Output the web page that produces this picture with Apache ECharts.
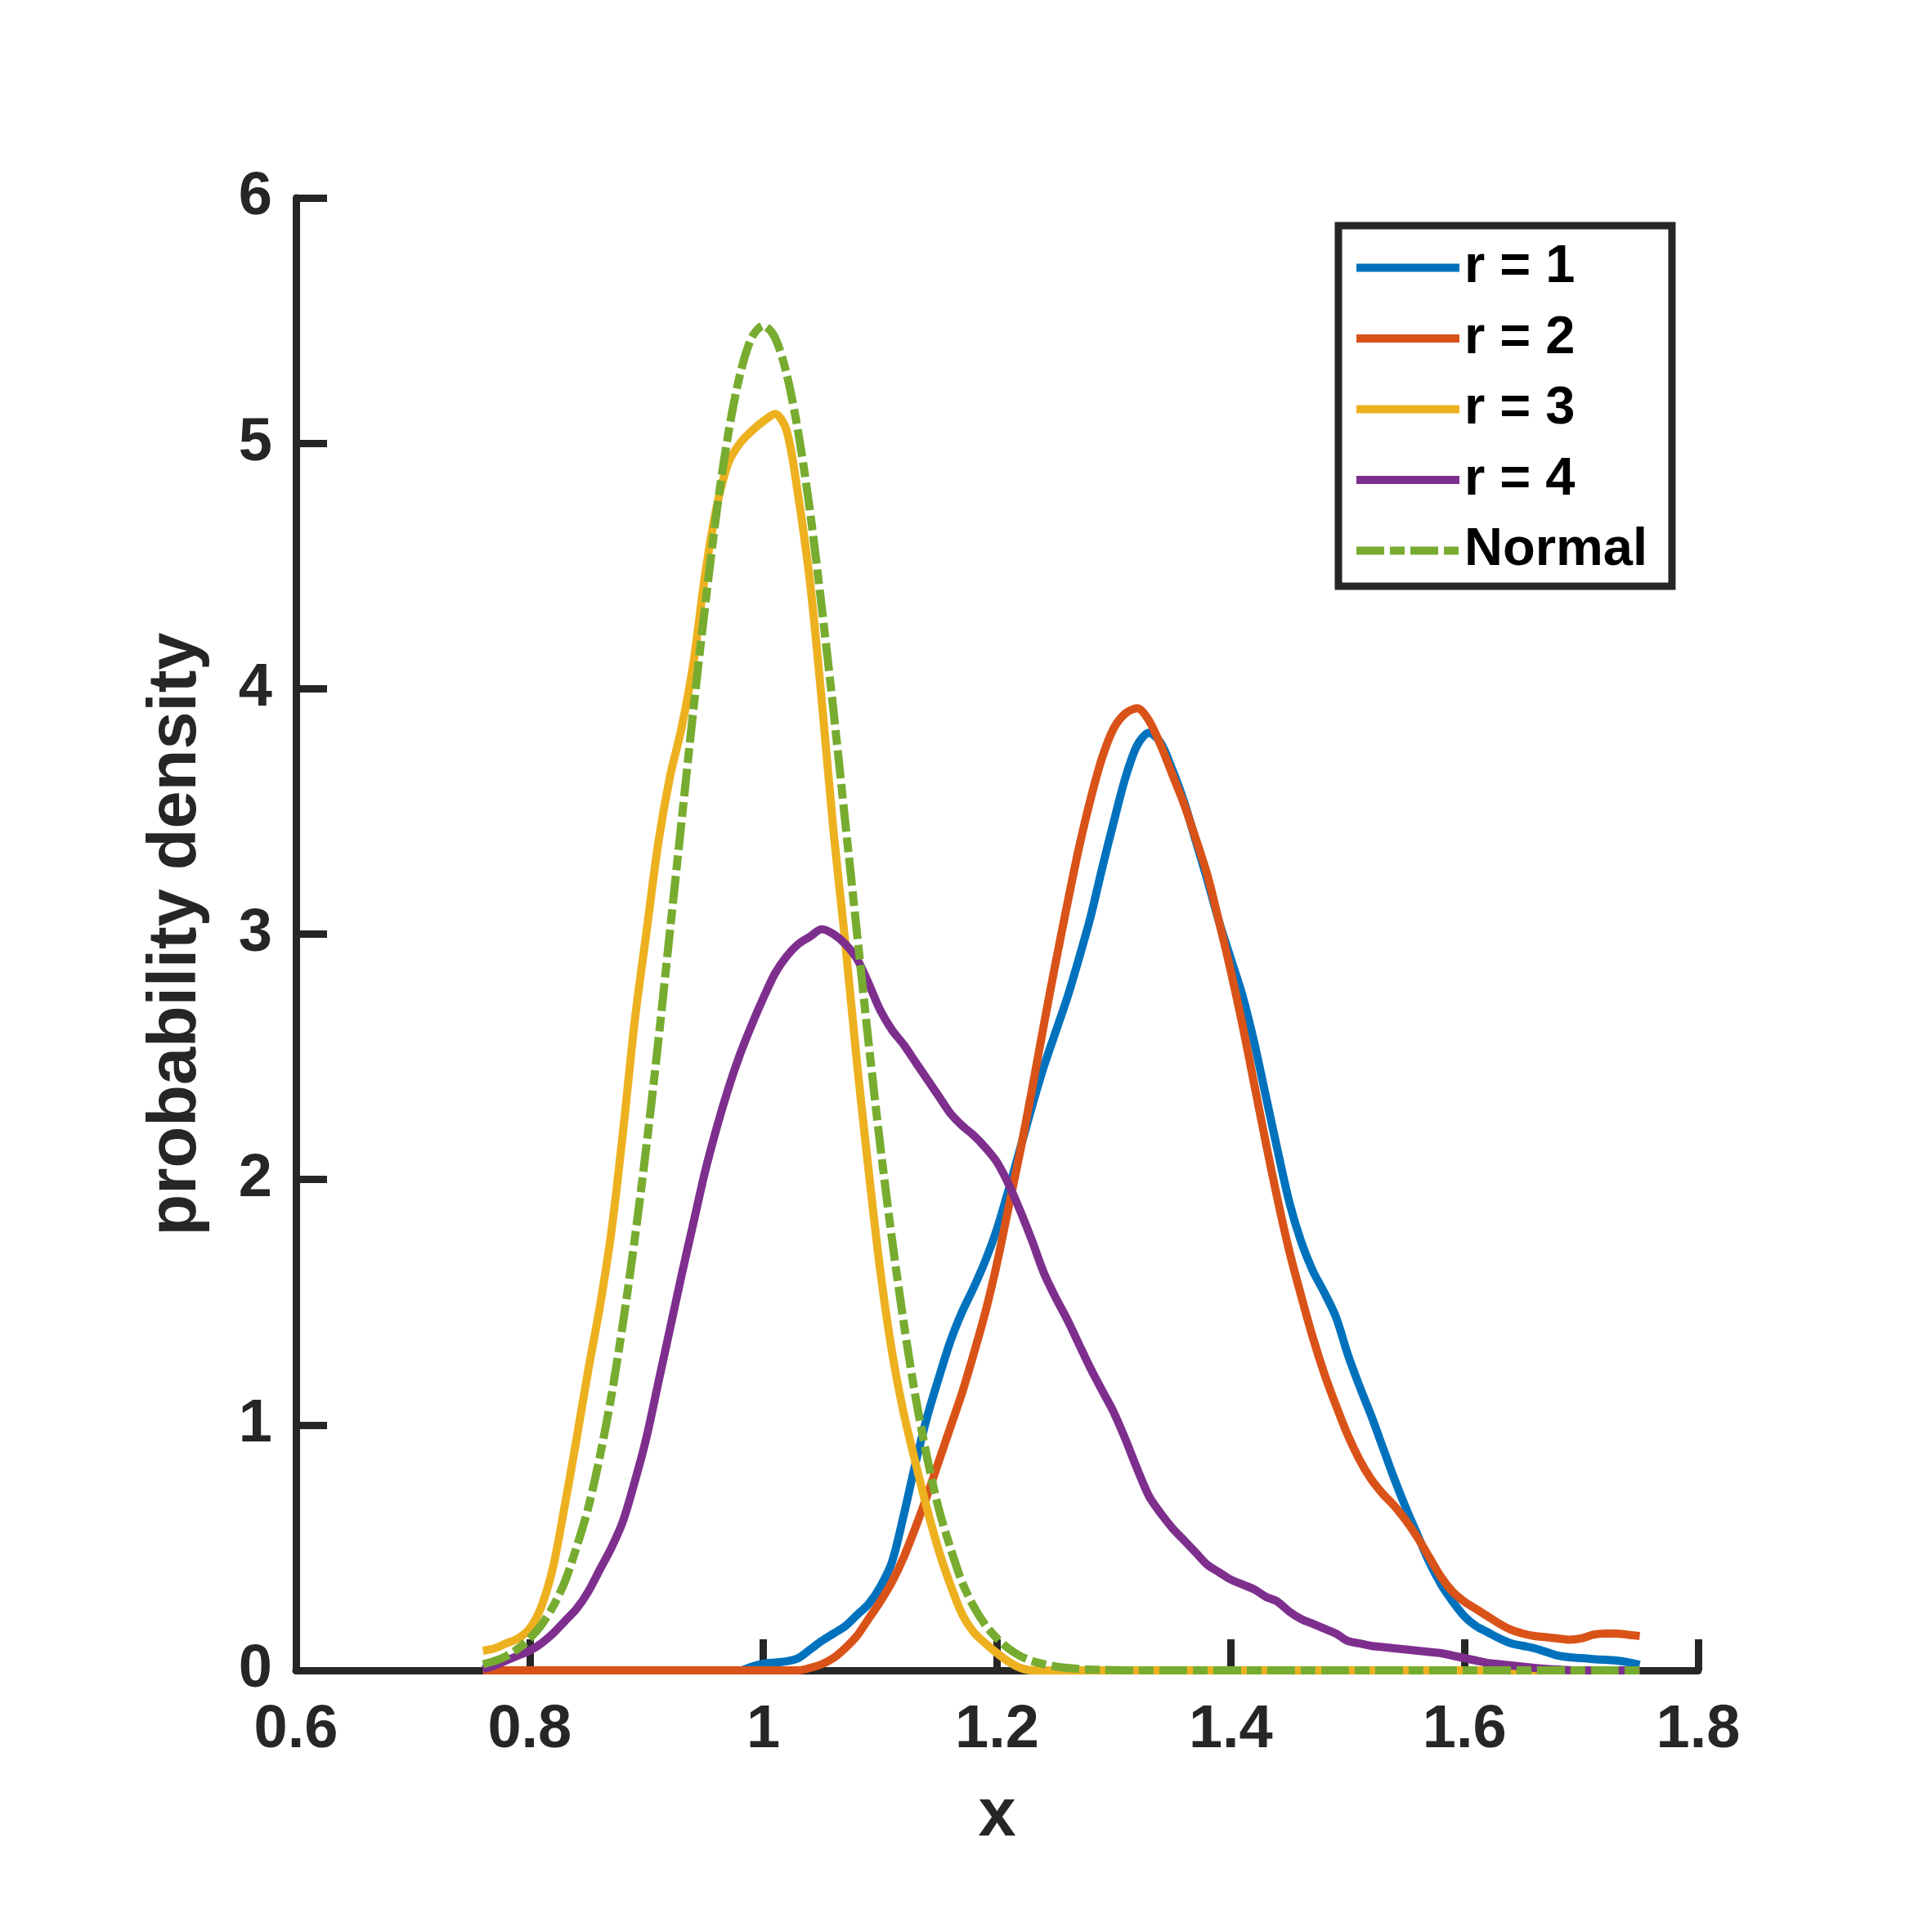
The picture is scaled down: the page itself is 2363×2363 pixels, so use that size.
<!DOCTYPE html>
<html lang="en">
<head>
	<meta charset="UTF-8">
	<title>probability density</title>
	<style type="text/css">
	html, body {
		margin: 0;
		padding: 0;
		background: #fff;
	}
	.chart {
		width: 2363px;
		height: 2363px;
	}
	</style>
</head>
<body>
	<div class="chart"></div>

	<script type="text/javascript" src="https://cdn.jsdelivr.net/npm/echarts@6/dist/echarts.min.js"></script>
	<script type="text/javascript">

		// x grid of the density estimates (0.76 .. 1.75)
		var xs = [
			0.76, 0.77, 0.78, 0.79, 0.80, 0.81, 0.82, 0.83, 0.84, 0.85,
			0.86, 0.87, 0.88, 0.89, 0.90, 0.91, 0.92, 0.93, 0.94, 0.95,
			0.96, 0.97, 0.98, 0.99, 1.00, 1.01, 1.02, 1.03, 1.04, 1.05,
			1.06, 1.07, 1.08, 1.09, 1.10, 1.11, 1.12, 1.13, 1.14, 1.15,
			1.16, 1.17, 1.18, 1.19, 1.20, 1.21, 1.22, 1.23, 1.24, 1.25,
			1.26, 1.27, 1.28, 1.29, 1.30, 1.31, 1.32, 1.33, 1.34, 1.35,
			1.36, 1.37, 1.38, 1.39, 1.40, 1.41, 1.42, 1.43, 1.44, 1.45,
			1.46, 1.47, 1.48, 1.49, 1.50, 1.51, 1.52, 1.53, 1.54, 1.55,
			1.56, 1.57, 1.58, 1.59, 1.60, 1.61, 1.62, 1.63, 1.64, 1.65,
			1.66, 1.67, 1.68, 1.69, 1.70, 1.71, 1.72, 1.73, 1.74, 1.75
		];

		// r = 1
		var r1 = [
			0, 0, 0, 0, 0, 0, 0, 0, 0, 0,
			0, 0, 0, 0, 0, 0, 0, 0, 0, 0,
			0, 0, 0, 0.015, 0.027, 0.032, 0.037, 0.05, 0.085, 0.12,
			0.15, 0.18, 0.225, 0.27, 0.34, 0.44, 0.63, 0.84, 1.03, 1.19,
			1.34, 1.46, 1.56, 1.67, 1.80, 1.96, 2.13, 2.30, 2.46, 2.60,
			2.74, 2.90, 3.07, 3.27, 3.46, 3.64, 3.77, 3.82, 3.78, 3.67,
			3.54, 3.38, 3.22, 3.05, 2.90, 2.75, 2.56, 2.34, 2.12, 1.91,
			1.75, 1.63, 1.54, 1.44, 1.29, 1.16, 1.04, 0.91, 0.78, 0.66,
			0.55, 0.44, 0.35, 0.28, 0.22, 0.18, 0.155, 0.13, 0.11, 0.10,
			0.09, 0.075, 0.06, 0.053, 0.05, 0.046, 0.043, 0.04, 0.033, 0.023
		];

		// r = 2
		var r2 = [
			0, 0, 0, 0, 0, 0, 0, 0, 0, 0,
			0, 0, 0, 0, 0, 0, 0, 0, 0, 0,
			0, 0, 0, 0, 0, 0, 0, 0, 0.01, 0.025,
			0.05, 0.09, 0.14, 0.21, 0.28, 0.36, 0.46, 0.58, 0.71, 0.85,
			0.99, 1.13, 1.29, 1.46, 1.66, 1.89, 2.12, 2.37, 2.63, 2.88,
			3.12, 3.35, 3.55, 3.72, 3.84, 3.90, 3.92, 3.87, 3.77, 3.65,
			3.53, 3.39, 3.24, 3.05, 2.85, 2.63, 2.39, 2.15, 1.92, 1.71,
			1.53, 1.36, 1.21, 1.08, 0.96, 0.86, 0.78, 0.72, 0.67, 0.61,
			0.54, 0.46, 0.38, 0.32, 0.28, 0.25, 0.22, 0.19, 0.165, 0.15,
			0.14, 0.135, 0.13, 0.125, 0.13, 0.145, 0.15, 0.15, 0.145, 0.14
		];

		// r = 3
		var r3 = [
			0.08, 0.09, 0.11, 0.13, 0.17, 0.26, 0.42, 0.67, 0.94, 1.22,
			1.48, 1.79, 2.20, 2.65, 3.01, 3.37, 3.64, 3.84, 4.10, 4.46,
			4.74, 4.92, 5.00, 5.05, 5.09, 5.12, 5.05, 4.78, 4.43, 3.95,
			3.42, 2.97, 2.48, 2.04, 1.63, 1.30, 1.05, 0.85, 0.66, 0.49,
			0.35, 0.23, 0.155, 0.11, 0.07, 0.035, 0.01, 0, 0, 0,
			0, 0, 0, 0, 0, 0, 0, 0, 0, 0,
			0, 0, 0, 0, 0, 0, 0, 0, 0, 0,
			0, 0, 0, 0, 0, 0, 0, 0, 0, 0,
			0, 0, 0, 0, 0, 0, 0, 0, 0, 0,
			0, 0, 0, 0, 0, 0, 0, 0, 0, 0
		];

		// r = 4
		var r4 = [
			0.005, 0.02, 0.04, 0.06, 0.08, 0.11, 0.15, 0.20, 0.25, 0.32,
			0.41, 0.50, 0.61, 0.77, 0.95, 1.17, 1.39, 1.61, 1.82, 2.03,
			2.21, 2.37, 2.51, 2.63, 2.74, 2.84, 2.91, 2.96, 2.99, 3.02,
			3.00, 2.96, 2.90, 2.80, 2.69, 2.61, 2.55, 2.48, 2.41, 2.34,
			2.27, 2.22, 2.18, 2.13, 2.07, 1.98, 1.87, 1.75, 1.62, 1.52,
			1.43, 1.33, 1.23, 1.14, 1.05, 0.94, 0.82, 0.71, 0.64, 0.58,
			0.53, 0.48, 0.43, 0.40, 0.37, 0.35, 0.33, 0.30, 0.28, 0.24,
			0.21, 0.19, 0.17, 0.15, 0.12, 0.11, 0.10, 0.095, 0.09, 0.085,
			0.08, 0.075, 0.07, 0.06, 0.05, 0.04, 0.03, 0.025, 0.02, 0.015,
			0.01, 0.006, 0.003, 0.001, 0, 0, 0, 0, 0, 0
		];

		// Normal
		var normal = [
			0.025, 0.038, 0.058, 0.088, 0.13, 0.185, 0.26, 0.36, 0.50, 0.66,
			0.87, 1.12, 1.42, 1.76, 2.14, 2.56, 3.01, 3.46, 3.91, 4.33,
			4.72, 5.04, 5.28, 5.43, 5.48, 5.43, 5.28, 5.04, 4.72, 4.33,
			3.91, 3.46, 3.01, 2.56, 2.14, 1.76, 1.42, 1.12, 0.87, 0.66,
			0.50, 0.36, 0.26, 0.185, 0.13, 0.088, 0.058, 0.038, 0.025, 0.016,
			0.01, 0.006, 0.003, 0.002, 0.001, 0, 0, 0, 0, 0,
			0, 0, 0, 0, 0, 0, 0, 0, 0, 0,
			0, 0, 0, 0, 0, 0, 0, 0, 0, 0,
			0, 0, 0, 0, 0, 0, 0, 0, 0, 0,
			0, 0, 0, 0, 0, 0, 0, 0, 0, 0
		];

		var names = ['r = 1', 'r = 2', 'r = 3', 'r = 4', 'Normal'];
		var xTicks = [0.6, 0.8, 1, 1.2, 1.4, 1.6, 1.8];
		var yTicks = [0, 1, 2, 3, 4, 5, 6];

		var colors = ['#0072BD', '#D95319', '#EDB120', '#7E2F8E', '#77AC30'];
		var font = "'Liberation Sans', Arial, Helvetica, sans-serif";
		var axisColor = '#262626';

		var chart = echarts.init(document.getElementsByClassName('chart')[0]);

		// turn one y list into [x, y] pairs
		function pairs (ys) {
			return xs.map(function (x, i) {
				return [x, ys[i]];
			});
		}

		var series = [r1, r2, r3, r4, normal].map(function (ys, k) {
			return {
				name: names[k],
				type: 'line',
				data: pairs(ys),
				symbol: 'none',
				smooth: 0.3,
				z: 2 + k,
				itemStyle: { color: colors[k] },
				lineStyle: {
					color: colors[k],
					width: 10,
					type: k === 4 ? [34, 7, 18, 7] : 'solid',
					join: 'round'
				}
			};
		});

		var option = {
			animation: false,
			backgroundColor: '#fff',
			grid: {
				left: 362,
				right: 286,
				top: 242,
				bottom: 320
			},
			legend: {
				orient: 'vertical',
				left: 1637,
				top: 276,
				itemWidth: 126,
				itemHeight: 10,
				itemGap: 21.5,
				padding: [19, 30, 11, 17],
				borderColor: axisColor,
				borderWidth: 9,
				backgroundColor: '#fff',
				// line series put a dot in their legend icon; hide it
				itemStyle: { opacity: 0 },
				lineStyle: { width: 10 },
				textStyle: {
					fontFamily: font,
					fontWeight: 'bold',
					fontSize: 65,
					lineHeight: 64,
					color: '#000',
					padding: [0, 0, 0, 1]
				},
				data: names
			},
			xAxis: {
				type: 'value',
				min: xTicks[0],
				max: xTicks[xTicks.length - 1],
				interval: 0.2,
				name: 'x',
				nameLocation: 'middle',
				nameGap: 138,
				nameTextStyle: {
					fontFamily: font,
					fontWeight: 'bold',
					fontSize: 83,
					color: axisColor
				},
				axisLine: { lineStyle: { color: axisColor, width: 9 } },
				axisTick: { inside: true, length: 38, lineStyle: { color: axisColor, width: 9 } },
				axisLabel: {
					margin: 37,
					fontFamily: font,
					fontWeight: 'bold',
					fontSize: 74,
					color: axisColor,
					formatter: function (v) {
						return String(Math.round(v * 10) / 10);
					}
				},
				splitLine: { show: false }
			},
			yAxis: {
				type: 'value',
				min: yTicks[0],
				max: yTicks[yTicks.length - 1],
				interval: 1,
				name: 'probability density',
				nameLocation: 'middle',
				nameRotate: 90,
				nameGap: 104,
				nameTextStyle: {
					fontFamily: font,
					fontWeight: 'bold',
					fontSize: 83,
					color: axisColor
				},
				axisLine: { lineStyle: { color: axisColor, width: 9 } },
				axisTick: { inside: true, length: 38, lineStyle: { color: axisColor, width: 9 } },
				axisLabel: {
					margin: 29,
					fontFamily: font,
					fontWeight: 'bold',
					fontSize: 74,
					color: axisColor
				},
				splitLine: { show: false }
			},
			series: series
		};

		chart.setOption(option);

	</script>
</body>
</html>
